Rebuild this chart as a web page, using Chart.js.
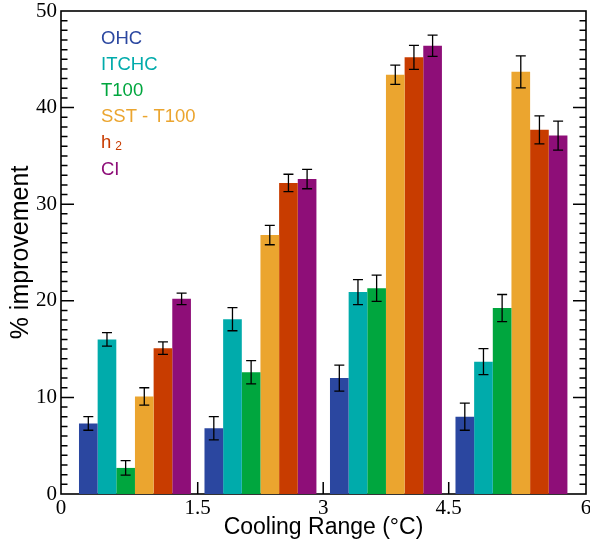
<!DOCTYPE html>
<html>
<head>
<meta charset="utf-8">
<script src="https://cdn.jsdelivr.net/npm/chart.js@4.4.1/dist/chart.umd.min.js"></script>
<style>
body{margin:0;background:#fff;}
canvas{display:block;}
</style>
</head>
<body>
<canvas id="chart" width="590" height="541"></canvas>
<script>
// group centres on the cooling range axis (°C)
const groupCenters = [0.75, 2.25, 3.75, 5.25];
const xTickLabels = ["0", "1.5", "3", "4.5", "6"];

const seriesNames = ["OHC", "ITCHC", "T100", "SST - T100", "h_2", "CI"];
const seriesColors = ["#2b47a0", "#00abab", "#00a63e", "#eba52f", "#c83c00", "#8e0e78"];

// % improvement per group, and the error bar half-length
const ohc     = [7.3, 6.8, 12.0, 8.0];
const ohcErr  = [0.7, 1.2, 1.35, 1.4];
const itchc    = [16.0, 18.1, 20.9, 13.7];
const itchcErr = [0.7, 1.2, 1.3, 1.35];
const t100    = [2.7, 12.6, 21.3, 19.25];
const t100Err = [0.75, 1.2, 1.35, 1.4];
const sst     = [10.1, 26.8, 43.4, 43.7];
const sstErr  = [0.9, 1.0, 1.0, 1.65];
const h2      = [15.1, 32.2, 45.2, 37.7];
const h2Err   = [0.65, 0.9, 1.25, 1.45];
const ci      = [20.2, 32.6, 46.4, 37.1];
const ciErr   = [0.6, 1.0, 1.1, 1.5];

const allValues = [ohc, itchc, t100, sst, h2, ci];
const allErrors = [ohcErr, itchcErr, t100Err, sstErr, h2Err, ciErr];

const X_MIN = -0.134, X_MAX = 6.141;

const datasets = allValues.map((vals, i) => ({
  label: seriesNames[i],
  data: vals.map((v, j) => ({x: groupCenters[j], y: v})),
  errors: allErrors[i],
  backgroundColor: seriesColors[i],
  borderWidth: 0,
  categoryPercentage: 0.892,
  barPercentage: 1.0
}));

const axesAndErrors = {
  id: "axesAndErrors",
  beforeDatasetsDraw(chart){
    const {ctx, chartArea: a} = chart;
    ctx.save();
    ctx.strokeStyle = "#000";
    ctx.lineWidth = 1.6;
    ctx.strokeRect(a.left, a.top, a.right - a.left, a.bottom - a.top);
    ctx.restore();
  },
  afterDatasetsDraw(chart){
    const {ctx, chartArea: a, scales} = chart;
    const y = scales.y, x = scales.x;
    ctx.save();
    ctx.strokeStyle = "#000";

    // error bars
    ctx.lineWidth = 1.3;
    chart.data.datasets.forEach((ds, i) => {
      const meta = chart.getDatasetMeta(i);
      meta.data.forEach((bar, j) => {
        const v = ds.data[j].y, e = ds.errors[j];
        const top = y.getPixelForValue(v + e);
        const bot = y.getPixelForValue(v - e);
        ctx.beginPath();
        ctx.moveTo(bar.x, top); ctx.lineTo(bar.x, bot);
        ctx.moveTo(bar.x - 5, top); ctx.lineTo(bar.x + 5, top);
        ctx.moveTo(bar.x - 5, bot); ctx.lineTo(bar.x + 5, bot);
        ctx.stroke();
      });
    });

    // inward ticks on left and right axes
    ctx.lineWidth = 1.5;
    ctx.beginPath();
    for (let v = 1; v < 50; v++) {
      const py = y.getPixelForValue(v);
      const len = v % 10 === 0 ? 13 : 6.5;
      ctx.moveTo(a.left, py); ctx.lineTo(a.left + len, py);
      ctx.moveTo(a.right, py); ctx.lineTo(a.right - len, py);
    }
    // bottom ticks
    x.ticks.forEach((t, i) => {
      if (i === 0 || i === x.ticks.length - 1) return;
      const px = x.getPixelForValue(t.value);
      ctx.moveTo(px, a.bottom); ctx.lineTo(px, a.bottom - 12);
    });
    ctx.stroke();
    ctx.restore();
  }
};

const textLegend = {
  id: "textLegend",
  afterDraw(chart){
    const {ctx, chartArea: a} = chart;
    ctx.save();
    ctx.textBaseline = "alphabetic";
    ctx.textAlign = "left";
    chart.data.datasets.forEach((ds, i) => {
      const px = a.left + 40;
      const py = 43.5 + i * 26.2;
      ctx.fillStyle = seriesColors[i];
      ctx.font = "18.5px 'Liberation Sans', Arial, sans-serif";
      const parts = ds.label.split("_");
      ctx.fillText(parts[0], px, py);
      if (parts[1]) {
        const w = ctx.measureText(parts[0]).width;
        ctx.font = "12px 'Liberation Sans', Arial, sans-serif";
        ctx.fillText(parts[1], px + w + 4, py + 1.5);
      }
    });
    ctx.restore();
  }
};

new Chart(document.getElementById("chart"), {
  type: "bar",
  data: { datasets: datasets },
  options: {
    responsive: false,
    animation: false,
    devicePixelRatio: 1,
    layout: { padding: { top: 11, right: 4, left: 0, bottom: 0 } },
    plugins: { legend: { display: false }, tooltip: { enabled: false } },
    scales: {
      x: {
        type: "linear",
        min: X_MIN,
        max: X_MAX,
        offset: false,
        grid: { display: false, drawTicks: false },
        border: { display: false },
        afterBuildTicks: (s) => {
          s.ticks = xTickLabels.map((l, i) => ({
            value: i === 0 ? X_MIN : (i === xTickLabels.length - 1 ? X_MAX : parseFloat(l))
          }));
        },
        ticks: {
          autoSkip: false,
          maxRotation: 0,
          padding: 2,
          color: "#000",
          font: { family: "'Liberation Serif', serif", size: 21 },
          callback: (v, i) => xTickLabels[i]
        },
        title: {
          display: true,
          text: "Cooling Range (°C)",
          color: "#000",
          padding: 0,
          font: { family: "'Liberation Sans', Arial, sans-serif", size: 23 }
        },
        afterFit: (s) => { s.height = 47; s.paddingLeft = 0; s.paddingRight = 0; }
      },
      y: {
        min: 0,
        max: 50,
        grid: { display: false, drawTicks: false },
        border: { display: false },
        ticks: {
          stepSize: 10,
          padding: 4,
          color: "#000",
          font: { family: "'Liberation Serif', serif", size: 21 }
        },
        title: {
          display: true,
          text: "% improvement",
          color: "#000",
          padding: { top: 6, bottom: 0 },
          font: { family: "'Liberation Sans', Arial, sans-serif", size: 25 }
        },
        afterFit: (s) => { s.width = 61; s.paddingTop = 0; s.paddingBottom = 0; }
      }
    }
  },
  plugins: [axesAndErrors, textLegend]
});
</script>
</body>
</html>
